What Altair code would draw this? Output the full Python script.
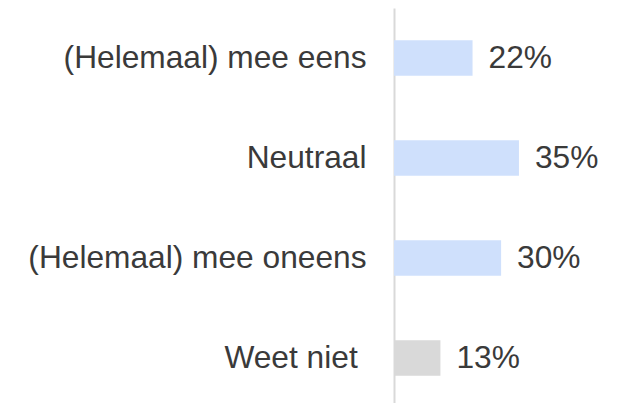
import altair as alt
import pandas as pd

categories = ["(Helemaal) mee eens", "Neutraal", "(Helemaal) mee oneens", "Weet niet\u00a0\u200b"]
values = [22, 35, 30, 13]
labels = ["22%", "35%", "30%", "13%"]
colors = ["#cfe0fc", "#cfe0fc", "#cfe0fc", "#d9d9d9"]

df = pd.DataFrame({"cat": categories, "val": values, "label": labels, "color": colors})

FONT = "Liberation Sans"

y = alt.Y("cat:N", sort=categories,
          scale=alt.Scale(paddingInner=0.645, paddingOuter=0.3225),
          axis=alt.Axis(title=None, ticks=False, labelFontSize=31.7, labelColor="#3a3a3a",
                        labelFont=FONT, labelPadding=28, domainColor="#d9d9d9",
                        domainWidth=2, grid=False, labelLimit=400))
x = alt.X("val:Q", scale=alt.Scale(domain=[0, 60.5]), axis=None)

bars = alt.Chart(df).mark_bar().encode(x=x, y=y, color=alt.Color("color:N", scale=None))
text = alt.Chart(df).mark_text(align="left", baseline="middle", dx=16, fontSize=31.7,
                               font=FONT, color="#3a3a3a").encode(
    x=x, y=alt.Y("cat:N", sort=categories), text="label:N")

chart = (bars + text).properties(
    width=216, height=400,
    autosize=alt.AutoSizeParams(type="none"),
    padding={"left": 386, "top": 0, "right": 0, "bottom": 0},
).configure_view(stroke=None)

chart.save("out.html", embed_options={"renderer": "svg", "actions": False})
